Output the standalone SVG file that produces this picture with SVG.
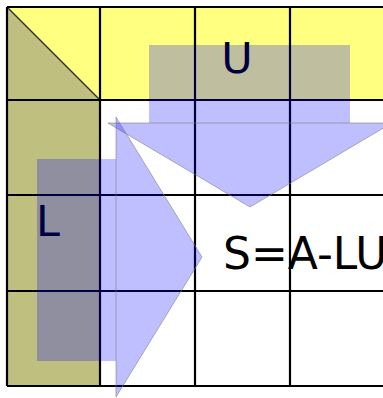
<svg xmlns="http://www.w3.org/2000/svg" width="383" height="398" viewBox="0 0 383 398">
<style>
.grid{stroke:#000;stroke-width:2.2;fill:none}
.ov{fill:#0000ff;fill-opacity:0.25}
.tri{fill:#0000ff;fill-opacity:0.25;stroke:#808080;stroke-opacity:0.6;stroke-width:1}
.lbl{font-family:"DejaVu Sans",sans-serif;fill:#000}
</style>
<rect width="383" height="398" fill="#fff"/>
<g id="fills">
<rect x="100" y="7" width="283" height="93" fill="#ffff80"/>
<polygon points="7,7 100,7 100,100" fill="#ffff80"/>
<polygon points="7,7 100,100 100,385 7,385" fill="#bfbf80"/>
</g>
<g id="grid">
<line x1="7" y1="7" x2="100" y2="100" stroke="#333" stroke-width="1.5"/>
<path class="grid" d="M7,7H383M7,100H383M7,195H383M7,291H383M7,386H383M7,7V386M100,7V386M195,7V386M290,7V386"/>
</g>
<g id="labels">
<text class="lbl" x="237" y="73" font-size="43" text-anchor="middle">U</text>
<text class="lbl" x="36" y="236" font-size="43">L</text>
</g>
<g id="connectors">
<rect class="ov" x="149" y="45" width="201" height="78"/>
<polygon class="tri" points="108,123 392,123 250,207"/>
<rect class="ov" x="37" y="159" width="79" height="202"/>
<polygon class="tri" points="116,117 116,397 202,257"/>
</g>
<g id="result">
<text class="lbl" x="223" y="269" font-size="44">S=A-LU</text>
</g>
</svg>
